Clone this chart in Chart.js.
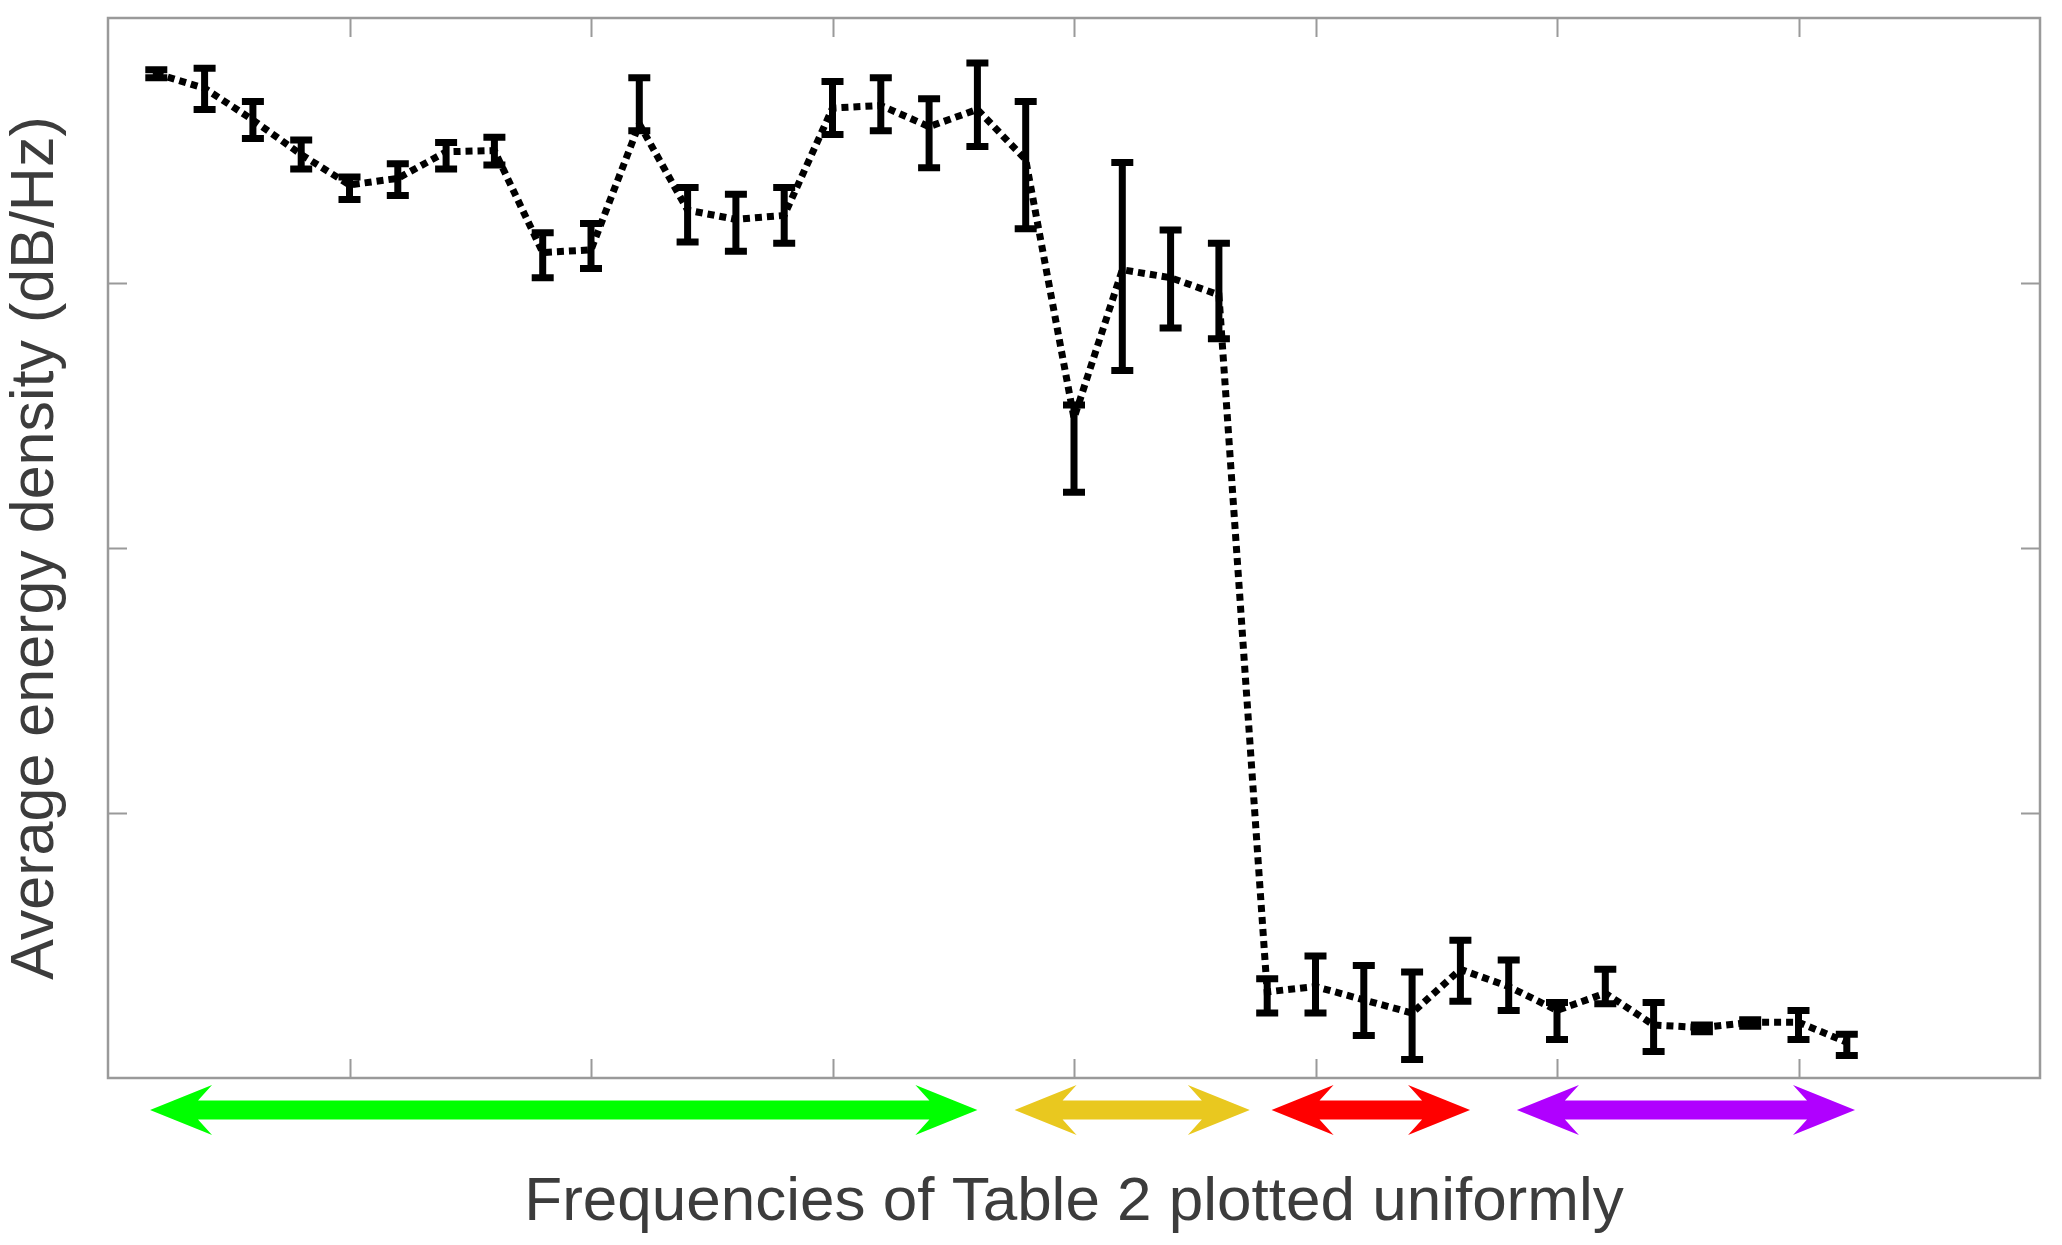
<!DOCTYPE html>
<html>
<head>
<meta charset="utf-8">
<script src="https://cdn.jsdelivr.net/npm/chart.js@4/dist/chart.umd.min.js"></script>
<style>
html, body { margin: 0; padding: 0; background: #ffffff; }
canvas { display: block; }
</style>
</head>
<body>
<canvas id="c" width="2062" height="1245"></canvas>
<script>
// ---- data ----
const freqIndex = [1, 2, 3, 4, 5, 6, 7, 8, 9, 10, 11, 12, 13, 14, 15, 16, 17, 18,
                   19, 20, 21, 22, 23, 24, 25, 26, 27, 28, 29, 30, 31, 32, 33, 34, 35, 36];
const meanDb  = [75.8, 74.7, 72.3, 69.7, 67.4, 67.9, 69.9, 70.0, 62.3, 62.5, 72.0, 65.5,
                 64.8, 65.1, 73.2, 73.4, 71.8, 73.1, 69.3, 49.8, 61.0, 60.4, 59.1, 6.5,
                 6.9, 5.9, 4.9, 8.2, 6.9, 5.1, 6.4, 4.0, 3.8, 4.2, 4.2, 2.7];
const upperDb = [76.1, 76.2, 73.7, 70.8, 68.0, 69.0, 70.6, 71.0, 63.8, 64.5, 75.5, 67.2,
                 66.7, 67.2, 75.2, 75.5, 73.9, 76.6, 73.7, 50.8, 69.1, 64.0, 63.0, 7.5,
                 9.2, 8.5, 8.0, 10.4, 8.9, 5.7, 8.2, 5.7, 4.0, 4.4, 5.1, 3.3];
const lowerDb = [75.5, 73.1, 70.9, 68.6, 66.3, 66.6, 68.6, 68.9, 60.4, 61.1, 71.5, 63.1,
                 62.4, 63.0, 71.2, 71.5, 68.7, 70.3, 64.1, 44.2, 53.4, 56.6, 55.8, 4.9,
                 4.9, 3.2, 1.4, 5.8, 5.1, 2.9, 5.6, 2.0, 3.5, 3.9, 2.9, 1.7];
const bandStart  = [0.87, 18.77, 24.09, 29.17];
const bandEnd    = [18.0, 23.64, 28.2, 36.17];
const bandColors = ['#00ff00', '#e9c81f', '#ff0000', '#b000ff'];
const xTitle = 'Frequencies of Table 2 plotted uniformly';
const yTitle = 'Average energy density (dB/Hz)';

const FONT = "'Liberation Sans', Arial, Helvetica, sans-serif";

const errorBars = {
  id: 'errorBars',
  afterDatasetsDraw(chart) {
    const { ctx, scales: { x, y } } = chart;
    ctx.save();
    ctx.strokeStyle = '#000000';
    ctx.lineWidth = 7;
    ctx.lineCap = 'butt';
    const capHalf = 11;
    freqIndex.forEach((xv, i) => {
      const px = x.getPixelForValue(xv);
      const pt = y.getPixelForValue(upperDb[i]);
      const pb = y.getPixelForValue(lowerDb[i]);
      ctx.beginPath();
      ctx.moveTo(px, pt - 3); ctx.lineTo(px, pb + 3);
      ctx.moveTo(px - capHalf, pt); ctx.lineTo(px + capHalf, pt);
      ctx.moveTo(px - capHalf, pb); ctx.lineTo(px + capHalf, pb);
      ctx.stroke();
    });
    ctx.restore();
  }
};

const frame = {
  id: 'frame',
  afterDraw(chart) {
    const { ctx, chartArea: a, scales: { x, y } } = chart;
    ctx.save();
    ctx.strokeStyle = '#9a9a9a';
    ctx.lineWidth = 2.5;
    ctx.strokeRect(a.left, a.top, a.right - a.left, a.bottom - a.top);
    const tl = 19;
    ctx.lineWidth = 2;
    ctx.beginPath();
    x.ticks.forEach(t => {
      if (t.value <= x.min || t.value >= x.max) return;
      const px = Math.round(x.getPixelForValue(t.value)) + 0.5;
      ctx.moveTo(px, a.bottom); ctx.lineTo(px, a.bottom - tl);
      ctx.moveTo(px, a.top); ctx.lineTo(px, a.top + tl);
    });
    y.ticks.forEach(t => {
      if (t.value <= y.min || t.value >= y.max) return;
      const py = Math.round(y.getPixelForValue(t.value)) + 0.5;
      ctx.moveTo(a.left, py); ctx.lineTo(a.left + tl, py);
      ctx.moveTo(a.right, py); ctx.lineTo(a.right - tl, py);
    });
    ctx.stroke();

    // frequency band arrows
    const yc = a.bottom + 32;
    const hl = 62, hh = 25, sh = 9.5, join = 48;
    bandStart.forEach((s, i) => {
      const xl = x.getPixelForValue(s);
      const xr = x.getPixelForValue(bandEnd[i]);
      ctx.fillStyle = bandColors[i];
      ctx.beginPath();
      ctx.moveTo(xl, yc);
      ctx.lineTo(xl + hl, yc - hh);
      ctx.lineTo(xl + join, yc - sh);
      ctx.lineTo(xr - join, yc - sh);
      ctx.lineTo(xr - hl, yc - hh);
      ctx.lineTo(xr, yc);
      ctx.lineTo(xr - hl, yc + hh);
      ctx.lineTo(xr - join, yc + sh);
      ctx.lineTo(xl + join, yc + sh);
      ctx.lineTo(xl + hl, yc + hh);
      ctx.closePath();
      ctx.fill();
    });
    ctx.restore();
  }
};

new Chart(document.getElementById('c'), {
  type: 'line',
  data: {
    datasets: [{
      data: freqIndex.map((v, i) => ({ x: v, y: meanDb[i] })),
      borderColor: '#000000',
      borderWidth: 7,
      borderDash: [7, 5],
      borderCapStyle: 'butt',
      pointRadius: 0,
      tension: 0,
      fill: false
    }]
  },
  options: {
    responsive: false,
    devicePixelRatio: 1,
    animation: false,
    layout: { padding: { top: 18, right: 22, left: 0, bottom: 0 } },
    plugins: { legend: { display: false }, tooltip: { enabled: false } },
    scales: {
      x: {
        type: 'linear', min: 0, max: 40,
        ticks: { stepSize: 5, display: false },
        grid: { display: false, drawTicks: false },
        border: { display: false },
        title: { display: true, text: xTitle, color: '#3c3c3c',
                 font: { family: FONT, size: 62 }, padding: { top: 88, bottom: 5 } },
        afterFit: s => { s.height = 167; }
      },
      y: {
        type: 'linear', min: 0, max: 80,
        ticks: { stepSize: 20, display: false },
        grid: { display: false, drawTicks: false },
        border: { display: false },
        title: { display: true, text: yTitle, color: '#3c3c3c',
                 font: { family: FONT, size: 61 }, padding: { top: 0, bottom: 35 } },
        afterFit: s => { s.width = 108; }
      }
    }
  },
  plugins: [errorBars, frame]
});
</script>
</body>
</html>
